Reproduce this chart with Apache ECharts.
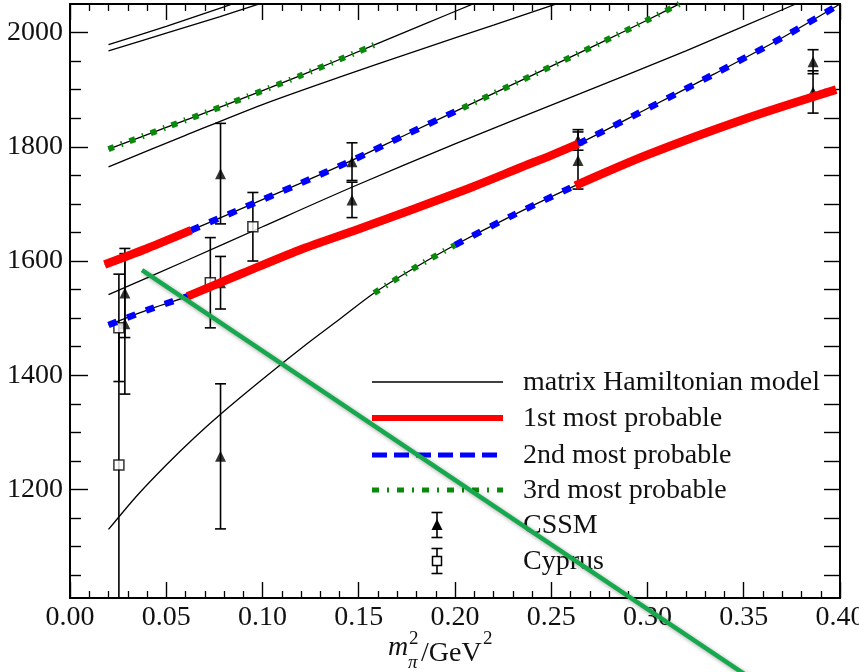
<!DOCTYPE html>
<html>
<head>
<meta charset="utf-8">
<script src="https://cdn.jsdelivr.net/npm/echarts@6/dist/echarts.min.js"></script>
<style>
  html, body { margin: 0; padding: 0; background: #fff; }
  #chart { width: 859px; height: 672px; }
</style>
</head>
<body>
<div id="chart"></div>
<script>
// Axis ranges and tick positions
const X_MIN = 0, X_MAX = 0.40, X_STEP = 0.05;
const Y_MIN = 1010, Y_MAX = 2050;
const yMajorTicks = [1200, 1400, 1600, 1800, 2000];
const yMinorTicks = [1050, 1100, 1150, 1250, 1300, 1350, 1450, 1500, 1550, 1650, 1700, 1750, 1850, 1900, 1950];
const yAllTicks = [1050, 1100, 1150, 1200, 1250, 1300, 1350, 1400, 1450, 1500, 1550, 1600, 1650, 1700, 1750, 1800, 1850, 1900, 1950, 2000];

// Matrix Hamiltonian model eigenvalue curves (x = m_pi^2 / GeV^2, y = mass / MeV)
const hamTopA = [[0.02, 1979], [0.05, 2011], [0.08, 2045], [0.086, 2052]];
const hamTopB = [[0.02, 1968], [0.05, 1999], [0.078, 2028], [0.10, 2052]];
const ham3rdUpperTail = [[0.16, 1981], [0.185, 2016], [0.21, 2051]];
const hamMiddle = [[0.02, 1765], [0.06, 1820], [0.10, 1874], [0.14, 1922], [0.18, 1968], [0.22, 2013], [0.25, 2047], [0.26, 2058]];
const hamLower = [[0.02, 1541], [0.06, 1600], [0.10, 1660], [0.147, 1730], [0.20, 1805], [0.265, 1893], [0.32, 1968], [0.377, 2050]];
const hamBottom = [[0.02, 1130], [0.035, 1190], [0.05, 1243], [0.065, 1292], [0.08, 1337], [0.10, 1393], [0.12, 1447], [0.14, 1498], [0.158, 1544]];

// Most probable state assignments, segment by segment
const first1 = [[0.018, 1594], [0.04, 1622], [0.063, 1654]];
const first2 = [[0.061, 1538], [0.09, 1579], [0.119, 1619], [0.15, 1656], [0.18, 1693], [0.21, 1731], [0.235, 1765], [0.25, 1785], [0.264, 1805]];
const first3 = [[0.2625, 1732], [0.30, 1786], [0.35, 1848], [0.398, 1900]];
const second1 = [[0.063, 1654], [0.09, 1693], [0.119, 1735], [0.147, 1777], [0.175, 1822], [0.204, 1868]];
const second2 = [[0.02, 1488], [0.04, 1514], [0.061, 1538]];
const second3 = [[0.264, 1805], [0.30, 1867], [0.335, 1928], [0.37, 1991], [0.40, 2050]];
const second4 = [[0.20, 1628], [0.23, 1680], [0.2625, 1732]];
const third1 = [[0.02, 1796], [0.05, 1834], [0.08, 1872], [0.12, 1925], [0.16, 1981]];
const third2 = [[0.204, 1868], [0.24, 1925], [0.275, 1981], [0.30, 2022], [0.32, 2056]];
const third3 = [[0.158, 1544], [0.178, 1586], [0.20, 1628]];

// Lattice results: [m_pi^2, mass, error]
const cssmX = [0.0285, 0.0285, 0.0782, 0.0782, 0.0782, 0.1465, 0.1465, 0.2639, 0.2639, 0.386, 0.386];
const cssmY = [1544, 1490, 1753, 1562, 1258, 1774, 1707, 1812, 1776, 1949, 1896];
const cssmErr = [78, 123, 88, 46, 127, 33, 31, 18, 50, 21, 37];
const cyprusX = [0.0254, 0.0254, 0.0729, 0.095];
const cyprusY = [1483, 1243, 1562, 1660];
const cyprusErr = [94, 245, 79, 60];

// Straight guide stroke across the panel
const guideStroke = [[0.0374, 1584], [0.36, 855]];

const FONT = '"Liberation Serif", "Times New Roman", serif';

function joinSegments() {
  const out = [];
  for (const seg of arguments) {
    for (const p of seg) {
      const last = out[out.length - 1];
      if (!last || last[0] < p[0]) out.push(p);
    }
  }
  return out;
}

const hamUpper = joinSegments(third1, ham3rdUpperTail);
const hamSecond = joinSegments(first1, second1, third2);
const hamThird = joinSegments(second2, first2, second3);
const hamFourth = joinSegments(hamBottom, third3, second4, first3);

const SMOOTH = 0.3;
function thin(data) {
  return {
    type: 'line', data: data, symbol: 'none', smooth: SMOOTH, z: 2, silent: true,
    lineStyle: { color: '#000', width: 1.3 }
  };
}
function firstStyle(data) {
  return {
    type: 'line', data: data, symbol: 'none', smooth: SMOOTH, z: 5, silent: true,
    lineStyle: { color: '#ff0000', width: 8.5, cap: 'butt' }
  };
}
function secondStyle(data) {
  return {
    type: 'line', data: data, symbol: 'none', smooth: SMOOTH, z: 5, silent: true,
    lineStyle: { color: '#0000ff', width: 6.5, type: [9, 11], cap: 'butt' }
  };
}
function thirdStyle(data) {
  return {
    type: 'line', data: data, symbol: 'none', smooth: SMOOTH, z: 5, silent: true,
    lineStyle: { color: '#0a8a0a', width: 6, type: [6, 7.5, 1.5, 7.5], cap: 'butt' }
  };
}

function zip3(xs, ys, es) {
  return xs.map((x, i) => [x, ys[i], es[i]]);
}

function renderErrorBar(params, api) {
  const x = api.value(0), y = api.value(1), e = api.value(2);
  const top = api.coord([x, y + e]);
  const bot = api.coord([x, y - e]);
  const cs = params.coordSys;
  const yLo = cs.y, yHi = cs.y + cs.height;
  const hw = 5.5;
  const st = { stroke: '#000', lineWidth: 1.6 };
  const children = [{
    type: 'line',
    shape: { x1: top[0], y1: Math.max(top[1], yLo), x2: bot[0], y2: Math.min(bot[1], yHi) },
    style: st
  }];
  if (top[1] >= yLo) children.push({ type: 'line', shape: { x1: top[0] - hw, y1: top[1], x2: top[0] + hw, y2: top[1] }, style: st });
  if (bot[1] <= yHi) children.push({ type: 'line', shape: { x1: bot[0] - hw, y1: bot[1], x2: bot[0] + hw, y2: bot[1] }, style: st });
  return { type: 'group', children: children };
}

const cssmData = zip3(cssmX, cssmY, cssmErr);
const cyprusData = zip3(cyprusX, cyprusY, cyprusErr);

function xAxisDef(pos, labels) {
  return {
    type: 'value', position: pos, min: X_MIN, max: X_MAX, interval: X_STEP,
    axisLine: { show: true, onZero: false, lineStyle: { color: '#000', width: 2 } },
    axisTick: { show: true, inside: true, length: 16, lineStyle: { color: '#000', width: 1.4 } },
    minorTick: { show: true, splitNumber: 5, length: 7, lineStyle: { color: '#000', width: 1.3 } },
    splitLine: { show: false },
    axisLabel: {
      show: labels, margin: 6, color: '#111', fontFamily: FONT, fontSize: 28,
      showMinLabel: true, showMaxLabel: true, hideOverlap: false,
      formatter: v => v.toFixed(2)
    }
  };
}
function yAxisDef(pos, ticks, len, labels) {
  return {
    type: 'value', position: pos, min: Y_MIN, max: Y_MAX,
    axisLine: { show: true, onZero: false, lineStyle: { color: '#000', width: 2 } },
    axisTick: { show: true, inside: true, length: len, customValues: ticks, lineStyle: { color: '#000', width: 1.4 } },
    splitLine: { show: false },
    axisLabel: {
      show: labels, customValues: yMajorTicks, margin: 7, color: '#111',
      fontFamily: FONT, fontSize: 28,
      formatter: v => String(v)
    }
  };
}

// Legend drawn as plain graphics
const LX1 = 372, LX2 = 503, LTX = 523;
const rows = [382, 418, 455, 490, 525, 561];
const legendTexts = ['matrix Hamiltonian model', '1st most probable', '2nd most probable', '3rd most probable', 'CSSM', 'Cyprus'];
const legendGraphics = [
  { type: 'line', shape: { x1: LX1, y1: rows[0], x2: LX2, y2: rows[0] }, style: { stroke: '#000', lineWidth: 1.4 } },
  { type: 'line', shape: { x1: LX1, y1: rows[1], x2: LX2, y2: rows[1] }, style: { stroke: '#ff0000', lineWidth: 6 } },
  { type: 'line', shape: { x1: LX1, y1: rows[2], x2: LX2, y2: rows[2] }, style: { stroke: '#0000ff', lineWidth: 5, lineDash: [15, 7] } },
  { type: 'line', shape: { x1: LX1, y1: rows[3], x2: LX2, y2: rows[3] }, style: { stroke: '#0a8a0a', lineWidth: 5, lineDash: [7, 8, 2, 8] } },
  // CSSM symbol
  { type: 'line', shape: { x1: 437, y1: rows[4] - 12.5, x2: 437, y2: rows[4] + 12.5 }, style: { stroke: '#000', lineWidth: 1.6 } },
  { type: 'line', shape: { x1: 431.5, y1: rows[4] - 12.5, x2: 442.5, y2: rows[4] - 12.5 }, style: { stroke: '#000', lineWidth: 1.6 } },
  { type: 'line', shape: { x1: 431.5, y1: rows[4] + 12.5, x2: 442.5, y2: rows[4] + 12.5 }, style: { stroke: '#000', lineWidth: 1.6 } },
  { type: 'polygon', shape: { points: [[437, rows[4] - 6], [442.5, rows[4] + 5], [431.5, rows[4] + 5]] }, style: { fill: '#000' } },
  // Cyprus symbol
  { type: 'line', shape: { x1: 437, y1: rows[5] - 12.5, x2: 437, y2: rows[5] + 12.5 }, style: { stroke: '#000', lineWidth: 1.6 } },
  { type: 'line', shape: { x1: 431.5, y1: rows[5] - 12.5, x2: 442.5, y2: rows[5] - 12.5 }, style: { stroke: '#000', lineWidth: 1.6 } },
  { type: 'line', shape: { x1: 431.5, y1: rows[5] + 12.5, x2: 442.5, y2: rows[5] + 12.5 }, style: { stroke: '#000', lineWidth: 1.6 } },
  { type: 'rect', shape: { x: 432.5, y: rows[5] - 4.5, width: 9, height: 9 }, style: { fill: '#fff', stroke: '#000', lineWidth: 1.5 } }
].concat(legendTexts.map((t, i) => ({
  type: 'text', x: LTX, y: rows[i] + 1,
  style: { text: t, font: '28px ' + FONT, fill: '#111', verticalAlign: 'middle' }
})));

// Axis title m_pi^2 / GeV^2
const axisTitle = [
  { type: 'text', x: 388, y: 662, style: { text: 'm', font: 'italic 28px ' + FONT, fill: '#111', verticalAlign: 'bottom' } },
  { type: 'text', x: 409, y: 649, style: { text: '2', font: '19px ' + FONT, fill: '#111', verticalAlign: 'bottom' } },
  { type: 'text', x: 408, y: 672, style: { text: 'π', font: 'italic 19px ' + FONT, fill: '#111', verticalAlign: 'bottom' } },
  { type: 'text', x: 421, y: 668, style: { text: '/GeV', font: '28px ' + FONT, fill: '#111', verticalAlign: 'bottom' } },
  { type: 'text', x: 483, y: 649, style: { text: '2', font: '19px ' + FONT, fill: '#111', verticalAlign: 'bottom' } }
];

const chart = echarts.init(document.getElementById('chart'), null, { renderer: 'canvas' });
chart.setOption({
  animation: false,
  backgroundColor: '#fff',
  grid: { left: 70, right: 19, top: 4, bottom: 74, containLabel: false, outerBoundsMode: 'none' },
  xAxis: [xAxisDef('bottom', true), xAxisDef('top', false)],
  yAxis: [
    yAxisDef('left', yMajorTicks, 18, true),
    yAxisDef('right', yAllTicks, 16, false),
    yAxisDef('left', yMinorTicks, 11, false)
  ],
  graphic: { elements: legendGraphics.concat(axisTitle).map(g => Object.assign({ z: 20 }, g)) },
  series: [
    thin(hamTopA), thin(hamTopB), thin(hamUpper), thin(hamMiddle),
    thin(hamSecond), thin(hamLower), thin(hamThird), thin(hamFourth),
    {
      type: 'custom', name: 'CSSM errors', data: cssmData, renderItem: renderErrorBar,
      encode: { x: 0, y: 1 }, z: 3, silent: true
    },
    {
      type: 'custom', name: 'Cyprus errors', data: cyprusData, renderItem: renderErrorBar,
      encode: { x: 0, y: 1 }, z: 3, silent: true
    },
    {
      type: 'scatter', name: 'CSSM', data: cssmData.map(d => [d[0], d[1]]),
      symbol: 'triangle', symbolSize: [11, 11], z: 4, silent: true,
      itemStyle: { color: '#000' }
    },
    {
      type: 'scatter', name: 'Cyprus', data: cyprusData.map(d => [d[0], d[1]]),
      symbol: 'rect', symbolSize: 10, z: 4, silent: true,
      itemStyle: { color: '#fff', borderColor: '#000', borderWidth: 1.5 }
    },
    firstStyle(first1), firstStyle(first2), firstStyle(first3),
    secondStyle(second1), secondStyle(second2), secondStyle(second3), secondStyle(second4),
    thirdStyle(third1), thirdStyle(third2), thirdStyle(third3),
    {
      type: 'line', data: guideStroke, symbol: 'none', clip: false, z: 30, silent: true,
      lineStyle: {
        color: '#16a84c', width: 4.5, cap: 'butt',
        shadowColor: 'rgba(0,0,0,0.35)', shadowBlur: 4, shadowOffsetX: 2, shadowOffsetY: 2
      }
    }
  ]
});
</script>
</body>
</html>
